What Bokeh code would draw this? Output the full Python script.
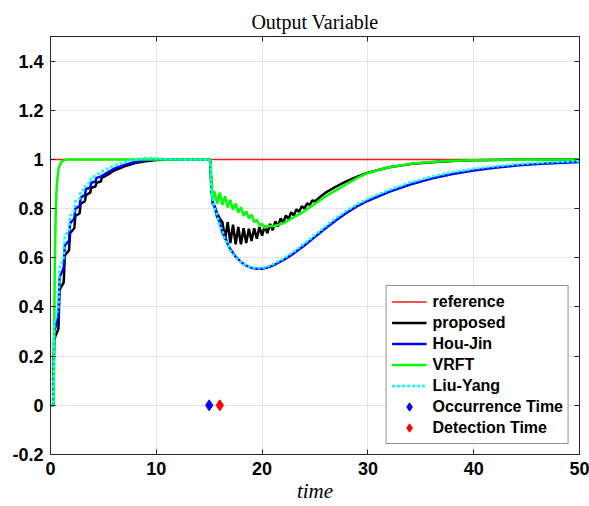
from bokeh.plotting import figure
from bokeh.models import (Range1d, FixedTicker, LinearAxis, CustomJSTickFormatter,
                          Legend, LegendItem)
from bokeh.embed import file_html
from bokeh.resources import INLINE

# ---------------- data ----------------
ref_t = [0, 50]
ref_v = [1, 1]

prop_t = [0, 0.25, 0.35, 0.75, 0.85, 1.25, 1.35, 1.75, 1.85, 2.25, 2.35, 2.75, 2.85,
          3.25, 3.35, 3.75, 3.85, 4.25, 4.35, 4.75, 4.85, 5.5, 6, 7, 8, 9, 10, 12, 15.1,
          15.2, 15.35, 15.5, 15.75, 16.0, 16.25, 16.5, 16.75, 17.0, 17.25, 17.5, 17.75,
          18.0, 18.25, 18.5, 18.75, 19.0, 19.25, 19.5, 19.75, 20.0, 20.25, 20.5, 20.75,
          21.0, 21.25, 21.5, 21.75, 22.0, 22.25, 22.5, 22.75, 23.0, 23.25, 23.5, 23.75,
          24.0, 24.25, 24.5, 24.75, 25.0, 25.5, 26, 27, 28, 29, 30, 32, 34, 36, 38, 40, 45, 50]
prop_v = [0, 0, 0.27, 0.31, 0.47, 0.50, 0.61, 0.63, 0.70, 0.72, 0.77, 0.78, 0.82,
          0.83, 0.855, 0.865, 0.885, 0.89, 0.905, 0.91, 0.925, 0.94, 0.955, 0.972, 0.985, 0.993, 0.998, 1.0, 1.0,
          0.9, 0.82, 0.81, 0.78, 0.76, 0.745, 0.675, 0.745, 0.66, 0.735, 0.655, 0.725,
          0.655, 0.72, 0.66, 0.718, 0.668, 0.72, 0.678, 0.725, 0.69, 0.73, 0.70, 0.738,
          0.712, 0.748, 0.728, 0.76, 0.743, 0.772, 0.758, 0.785, 0.772, 0.797, 0.787, 0.81,
          0.80, 0.822, 0.815, 0.833, 0.83, 0.848, 0.865, 0.89, 0.912, 0.93, 0.946, 0.968, 0.981, 0.989, 0.994, 0.997, 0.999, 1.0]

hou_t = [0, 0.25, 0.35, 0.75, 0.85, 1.25, 1.35, 1.75, 1.85, 2.25, 2.35, 2.75, 2.85,
         3.25, 3.35, 3.75, 3.85, 4.25, 4.35, 4.75, 5.5, 6, 7, 8, 9, 10, 15.1,
         15.2, 15.35, 15.5, 15.75, 16.0, 16.25, 16.5, 16.75, 17.0, 17.5, 18.0, 18.5, 19.0,
         19.5, 20.0, 20.5, 21, 22, 23, 24, 25, 26, 27, 28, 29, 30, 32, 34, 36, 38, 40,
         42, 44, 46, 48, 50]
hou_v = [0, 0, 0.30, 0.36, 0.52, 0.56, 0.65, 0.67, 0.74, 0.76, 0.80, 0.81, 0.845,
         0.855, 0.88, 0.885, 0.905, 0.91, 0.925, 0.93, 0.95, 0.962, 0.978, 0.99, 0.996, 1.0, 1.0,
         0.88, 0.82, 0.81, 0.765, 0.745, 0.70, 0.685, 0.655, 0.635, 0.605, 0.583, 0.568, 0.559,
         0.555, 0.555, 0.56, 0.568, 0.59, 0.618, 0.65, 0.685, 0.72, 0.753, 0.783, 0.81, 0.832, 0.868, 0.898, 0.922, 0.941, 0.955,
         0.966, 0.975, 0.981, 0.986, 0.99]

vrft_t = [0, 0.3, 0.4, 0.5, 0.6, 0.75, 1.0, 1.5, 15.1,
          15.3, 15.5, 15.75, 16.0, 16.25, 16.5, 16.75, 17.0, 17.25, 17.5, 17.75, 18.0,
          18.25, 18.5, 18.75, 19.0, 19.25, 19.5, 19.75, 20.0, 20.25, 20.5, 21.0, 22, 23,
          24, 25, 26, 27, 28, 29, 30, 32, 34, 36, 38, 40, 45, 50]
vrft_v = [0, 0, 0.55, 0.8, 0.9, 0.96, 0.99, 1.0, 1.0,
          0.84, 0.87, 0.82, 0.865, 0.815, 0.85, 0.805, 0.835, 0.795, 0.82, 0.785, 0.805,
          0.77, 0.79, 0.76, 0.775, 0.745, 0.755, 0.73, 0.738, 0.722, 0.728, 0.728, 0.74, 0.765,
          0.79, 0.82, 0.85, 0.875, 0.90, 0.925, 0.945, 0.968, 0.982, 0.99, 0.995, 0.997, 0.999, 1.0]

liu_t = [0, 0.25, 0.35, 0.75, 0.85, 1.25, 1.35, 1.75, 1.85, 2.25, 2.35, 2.75, 2.85,
         3.25, 3.35, 3.75, 3.85, 4.5, 5, 6, 7, 8, 9, 10, 11, 12, 15.1,
         15.2, 15.35, 15.5, 15.75, 16.0, 16.25, 16.5, 16.75, 17.0, 17.5, 18.0, 18.5, 19.0,
         19.5, 20.0, 20.5, 21, 22, 23, 24, 25, 26, 27, 28, 29, 30, 32, 34, 36, 38, 40,
         42, 44, 46, 48, 50]
liu_v = [0, 0, 0.33, 0.40, 0.56, 0.60, 0.69, 0.71, 0.77, 0.79, 0.83, 0.84, 0.87,
         0.88, 0.90, 0.905, 0.925, 0.94, 0.955, 0.975, 0.99, 1.0, 1.006, 1.004, 1.001, 1.0, 1.0,
         0.87, 0.83, 0.80, 0.775, 0.73, 0.71, 0.67, 0.66, 0.63, 0.603, 0.582, 0.568, 0.56,
         0.557, 0.558, 0.564, 0.573, 0.596, 0.625, 0.658, 0.693, 0.728, 0.762, 0.792, 0.818, 0.84, 0.876, 0.906, 0.93, 0.948, 0.962,
         0.972, 0.98, 0.986, 0.99, 0.993]

occ_t = [15]
occ_v = [0]
det_t = [16]
det_v = [0]

x_ticks = [0, 10, 20, 30, 40, 50]
y_ticks = [-0.2, 0, 0.2, 0.4, 0.6, 0.8, 1.0, 1.2, 1.4]

# ---------------- figure ----------------
AX = "#262626"
p = figure(width=589, height=506, output_backend="svg", toolbar_location=None,
           x_range=Range1d(0, 50), y_range=Range1d(-0.2, 1.5),
           min_border_left=50, min_border_right=10, min_border_top=36, min_border_bottom=52,
           background_fill_color="white", border_fill_color="white",
           title="Output Variable")
p.outline_line_color = AX
p.outline_line_width = 1

p.title.align = "center"
p.title.text_font = "Liberation Serif"
p.title.text_font_style = "normal"
p.title.text_font_size = "20px"
p.title.text_color = "black"
p.title.standoff = 8

fmt = CustomJSTickFormatter(code="return (Math.round(tick*10)/10).toString();")
blank = CustomJSTickFormatter(code="return '';")

for ax in (p.xaxis[0], p.yaxis[0]):
    ax.major_label_text_font = "Liberation Sans"
    ax.major_label_text_font_style = "bold"
    ax.major_label_text_font_size = "18px"
    ax.major_label_text_color = "black"
    ax.axis_line_color = AX
    ax.major_tick_line_color = AX
    ax.major_tick_in = 5
    ax.major_tick_out = 0
    ax.minor_tick_line_color = None
    ax.formatter = fmt
p.xaxis[0].ticker = FixedTicker(ticks=x_ticks)
p.yaxis[0].ticker = FixedTicker(ticks=y_ticks)
p.xaxis[0].major_label_standoff = 7
p.yaxis[0].major_label_standoff = 7

p.xaxis[0].axis_label = "time"
p.xaxis[0].axis_label_text_font = "Liberation Serif"
p.xaxis[0].axis_label_text_font_style = "italic"
p.xaxis[0].axis_label_text_font_size = "21px"
p.xaxis[0].axis_label_text_color = "black"
p.xaxis[0].axis_label_standoff = 1

top_ax = LinearAxis(ticker=FixedTicker(ticks=x_ticks), formatter=blank,
                    major_label_text_font_size="1px",
                    major_label_standoff=0, major_tick_in=5, major_tick_out=0,
                    minor_tick_line_color=None, axis_line_color=AX, major_tick_line_color=AX)
right_ax = LinearAxis(ticker=FixedTicker(ticks=y_ticks), formatter=blank,
                      major_label_text_font_size="1px",
                      major_label_standoff=0, major_tick_in=5, major_tick_out=0,
                      minor_tick_line_color=None, axis_line_color=AX, major_tick_line_color=AX)
p.add_layout(top_ax, "above")
p.add_layout(right_ax, "right")

p.xgrid.grid_line_color = "#e6e6e6"
p.ygrid.grid_line_color = "#e6e6e6"
p.xgrid.grid_line_width = 1
p.ygrid.grid_line_width = 1

r_ref = p.line(x=ref_t, y=ref_v, line_color="#ff1a1a", line_width=1.4)
r_prop = p.line(x=prop_t, y=prop_v, line_color="black", line_width=2.5)
r_hou = p.line(x=hou_t, y=hou_v, line_color="blue", line_width=2.5)
r_vrft = p.line(x=vrft_t, y=vrft_v, line_color="lime", line_width=2.5)
r_liu = p.line(x=liu_t, y=liu_v, line_color="cyan", line_width=2.5, line_dash="3 2")
r_occ = p.scatter(x=occ_t, y=occ_v, marker="diamond", size=11, fill_color="blue", line_color="blue")
r_det = p.scatter(x=det_t, y=det_v, marker="diamond", size=11, fill_color="red", line_color="red")

legend = Legend(items=[
    LegendItem(label="reference", renderers=[r_ref]),
    LegendItem(label="proposed", renderers=[r_prop]),
    LegendItem(label="Hou-Jin", renderers=[r_hou]),
    LegendItem(label="VRFT", renderers=[r_vrft]),
    LegendItem(label="Liu-Yang", renderers=[r_liu]),
    LegendItem(label="Occurrence Time", renderers=[r_occ]),
    LegendItem(label="Detection Time", renderers=[r_det]),
], location="bottom_right")
legend.margin = 10
legend.padding = 5
legend.spacing = 0
legend.label_height = 21
legend.glyph_height = 21
legend.glyph_width = 35
legend.label_standoff = 6
legend.label_text_font = "Liberation Sans"
legend.label_text_font_style = "bold"
legend.label_text_font_size = "16px"
legend.label_text_color = "black"
legend.border_line_color = AX
legend.border_line_width = 1
legend.background_fill_color = "white"
legend.background_fill_alpha = 1
p.add_layout(legend, "center")

open("out.html", "w").write(file_html(p, INLINE))
